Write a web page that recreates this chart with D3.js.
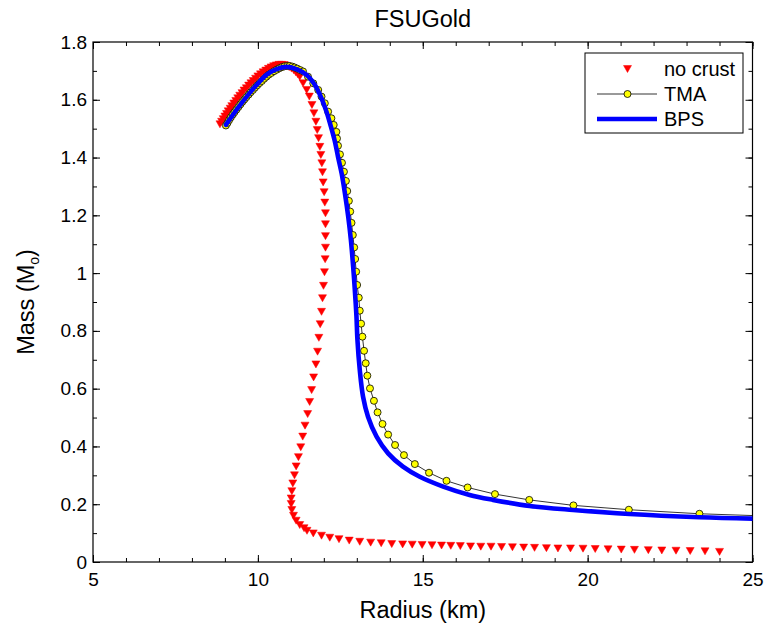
<!DOCTYPE html>
<html><head><meta charset="utf-8">
<script src="https://cdn.jsdelivr.net/npm/d3@7"></script>
<style>body{margin:0;background:#fff}svg{display:block}text{font-family:"Liberation Sans",Arial,sans-serif;fill:#000}</style>
</head><body>
<svg id="c" width="768" height="625"></svg>
<script>
// ---- data ----
const noCrustR = [8.85,8.90,8.95,9.00,9.05,9.10,9.16,9.21,9.27,9.33,9.39,9.45,9.52,9.58,9.65,9.72,9.79,9.86,9.93,10.00,10.08,10.16,10.24,10.32,10.40,10.48,10.56,10.64,10.72,10.80,10.87,10.95,11.02,11.09,11.15,11.21,
 11.27,11.37,11.48,11.56,11.64,11.70,11.76,11.80,11.84,11.88,11.91,11.94,11.96,11.98,12.01,12.03,12.05,12.05,12.05,12.05,12.04,12.02,11.99,11.96,11.93,11.89,11.85,11.81,11.76,11.69,11.63,11.57,11.51,11.43,11.36,11.30,11.23,11.16,11.11,11.06,11.03,11.01,11.01,11.03,11.08,11.16,11.27,11.40,11.49,
 11.68,11.93,12.18,12.46,12.77,13.09,13.42,13.74,14.06,14.39,14.68,14.98,15.28,15.57,15.85,16.14,16.45,16.76,17.07,17.39,17.72,18.06,18.39,18.75,19.10,19.48,19.86,20.23,20.62,21.02,21.42,21.84,22.25,22.68,23.11,23.56,24.00];
const noCrustM = [1.515,1.524,1.533,1.542,1.551,1.560,1.569,1.578,1.587,1.596,1.605,1.614,1.623,1.632,1.640,1.649,1.657,1.665,1.673,1.681,1.688,1.695,1.701,1.707,1.712,1.716,1.719,1.721,1.721,1.720,1.717,1.713,1.708,1.702,1.695,1.688,
 1.680,1.657,1.634,1.611,1.582,1.553,1.524,1.495,1.467,1.437,1.409,1.380,1.349,1.314,1.280,1.244,1.207,1.169,1.128,1.088,1.048,1.003,0.956,0.913,0.866,0.823,0.776,0.728,0.684,0.639,0.595,0.554,0.512,0.472,0.434,0.397,0.363,0.331,0.300,0.272,0.245,0.220,0.201,0.180,0.160,0.143,0.128,0.117,0.108,
 0.099,0.091,0.084,0.079,0.074,0.070,0.067,0.065,0.062,0.061,0.060,0.059,0.058,0.057,0.056,0.055,0.054,0.053,0.053,0.052,0.051,0.050,0.049,0.048,0.047,0.047,0.046,0.045,0.044,0.043,0.042,0.041,0.040,0.039,0.038,0.037,0.035];

const tmaR = [9.03,9.08,9.13,9.18,9.24,9.29,9.35,9.41,9.47,9.53,9.59,9.65,9.72,9.78,9.85,9.91,9.98,10.05,10.12,10.19,10.26,10.33,10.41,10.49,10.57,10.65,10.73,10.81,10.89,10.96,11.04,11.11,11.19,11.28,11.37,
 11.52,11.68,11.83,11.93,12.03,12.13,12.23,12.30,12.38,12.40,12.43,12.49,12.55,12.61,12.67,12.71,12.76,12.80,12.84,12.88,12.92,12.95,12.98,13.01,13.06,13.09,13.13,13.17,13.22,13.27,13.32,13.40,13.52,13.63,13.78,13.95,14.16,14.43,14.76,15.19,15.72,16.36,17.19,18.23,19.57,21.25,23.39,26.5];
const tmaM = [1.511,1.520,1.530,1.539,1.549,1.557,1.566,1.575,1.584,1.593,1.601,1.609,1.618,1.626,1.634,1.642,1.650,1.658,1.665,1.673,1.680,1.687,1.693,1.699,1.704,1.709,1.713,1.716,1.717,1.717,1.715,1.712,1.708,1.703,1.698,
 1.680,1.657,1.634,1.611,1.588,1.559,1.536,1.513,1.489,1.466,1.441,1.411,1.382,1.351,1.319,1.284,1.250,1.213,1.174,1.132,1.089,1.049,1.005,0.959,0.915,0.870,0.825,0.780,0.731,0.688,0.645,0.601,0.558,0.518,0.478,0.441,0.405,0.370,0.339,0.309,0.281,0.258,0.235,0.215,0.196,0.181,0.167,0.155];

const bpsR = [9.03,9.35,9.66,9.96,10.26,10.57,10.87,11.17,11.48,11.73,11.93,12.08,12.20,12.33,12.43,12.54,12.64,12.74,12.82,12.89,12.94,12.99,13.02,13.09,13.19,13.34,13.60,13.95,14.40,14.91,15.62,16.42,17.13,18.24,19.56,21.27,23.39,25.0];
const bpsM = [1.513,1.565,1.611,1.651,1.686,1.706,1.714,1.706,1.686,1.651,1.605,1.559,1.513,1.458,1.403,1.345,1.276,1.195,1.115,1.022,0.942,0.849,0.768,0.665,0.572,0.503,0.434,0.376,0.330,0.295,0.261,0.232,0.215,0.194,0.180,0.166,0.155,0.150];

const xTicks = [5,10,15,20,25];
const xTickLabels = ["5","10","15","20","25"];
const yTicks = [0,0.2,0.4,0.6,0.8,1,1.2,1.4,1.6,1.8];
const yTickLabels = ["0","0.2","0.4","0.6","0.8","1","1.2","1.4","1.6","1.8"];
const seriesNames = ["no crust","TMA","BPS"];
const titleText = "FSUGold";

// ---- layout ----
const L = 93, R = 752.5, T = 42, B = 562;
const svg = d3.select("#c");
const x = d3.scaleLinear().domain([5,25]).range([L,R]);
const y = d3.scaleLinear().domain([0,1.8]).range([B,T]);

svg.append("defs").append("clipPath").attr("id","clip")
  .append("rect").attr("x",L).attr("y",T).attr("width",R-L).attr("height",B-T);

const xMinor = d3.range(5,25.01,1);
const yMinor = d3.range(0,1.801,0.1);

function styleAxis(g){ g.select(".domain").remove(); g.selectAll("line").attr("stroke","#000").attr("stroke-width",1); g.selectAll("text").attr("font-size",19).attr("font-family","Liberation Sans, Arial, sans-serif"); }

// minor ticks
svg.append("g").attr("transform",`translate(0,${B})`).call(d3.axisBottom(x).tickValues(xMinor).tickSize(-4).tickFormat("")).call(styleAxis);
svg.append("g").attr("transform",`translate(0,${T})`).call(d3.axisTop(x).tickValues(xMinor).tickSize(-4).tickFormat("")).call(styleAxis);
svg.append("g").attr("transform",`translate(${L},0)`).call(d3.axisLeft(y).tickValues(yMinor).tickSize(-4).tickFormat("")).call(styleAxis);
svg.append("g").attr("transform",`translate(${R},0)`).call(d3.axisRight(y).tickValues(yMinor).tickSize(-4).tickFormat("")).call(styleAxis);
// major ticks
svg.append("g").attr("transform",`translate(0,${B})`).call(d3.axisBottom(x).tickValues(xTicks).tickSize(-7).tickPadding(11).tickFormat((d,i)=>xTickLabels[i])).call(styleAxis);
svg.append("g").attr("transform",`translate(0,${T})`).call(d3.axisTop(x).tickValues(xTicks).tickSize(-7).tickFormat("")).call(styleAxis);
svg.append("g").attr("transform",`translate(${L},0)`).call(d3.axisLeft(y).tickValues(yTicks).tickSize(-7).tickPadding(6).tickFormat((d,i)=>yTickLabels[i])).call(styleAxis);
svg.append("g").attr("transform",`translate(${R},0)`).call(d3.axisRight(y).tickValues(yTicks).tickSize(-7).tickFormat("")).call(styleAxis);

svg.append("rect").attr("x",L).attr("y",T).attr("width",R-L).attr("height",B-T)
  .attr("fill","none").attr("stroke","#000").attr("stroke-width",1.2);

const plot = svg.append("g").attr("clip-path","url(#clip)");
const tri = "M-4,-3.5L4,-3.5L0,3.5Z";

// no crust
const ncData = noCrustR.map((r,i)=>[r,noCrustM[i]]);
plot.append("g").selectAll("path").data(ncData).join("path")
  .attr("d",tri).attr("transform",d=>`translate(${x(d[0])},${y(d[1])})`)
  .attr("fill","#ff0000").attr("stroke","#ff0000").attr("stroke-width",0.5);

// TMA
const tmaData = tmaR.map((r,i)=>[r,tmaM[i]]);
plot.append("path").datum(tmaData).attr("fill","none").attr("stroke","#000").attr("stroke-width",0.8)
  .attr("d",d3.line().x(d=>x(d[0])).y(d=>y(d[1])));
plot.append("g").selectAll("circle").data(tmaData).join("circle")
  .attr("cx",d=>x(d[0])).attr("cy",d=>y(d[1])).attr("r",3.5)
  .attr("fill","#ffff00").attr("stroke","#000").attr("stroke-width",0.8);

// BPS
const bpsData = bpsR.map((r,i)=>[r,bpsM[i]]);
plot.append("path").datum(bpsData).attr("fill","none").attr("stroke","#0000ff").attr("stroke-width",4.6)
  .attr("stroke-linejoin","round").attr("stroke-linecap","round")
  .attr("d",d3.line().x(d=>x(d[0])).y(d=>y(d[1])).curve(d3.curveCatmullRom.alpha(0.5)));

// title and labels
svg.append("text").attr("x",(L+R)/2).attr("y",27).attr("text-anchor","middle").attr("font-size",23.5).text(titleText);
svg.append("text").attr("x",(L+R)/2).attr("y",618).attr("text-anchor","middle").attr("font-size",23.5).text("Radius (km)");
const yl = svg.append("text").attr("transform",`translate(34,${(T+B)/2}) rotate(-90)`).attr("text-anchor","middle").attr("font-size",23.5);
yl.append("tspan").text("Mass (M");
yl.append("tspan").attr("font-size",14).attr("dy",5).text("o");
yl.append("tspan").attr("dy",-5).text(")");

// legend
const lg = svg.append("g");
lg.append("rect").attr("x",585).attr("y",53).attr("width",158).attr("height",80).attr("fill","#fff").attr("stroke","#000").attr("stroke-width",1);
const rows = [69,94,119];
lg.append("path").attr("d",tri).attr("transform",`translate(627.5,${rows[0]})`).attr("fill","#ff0000").attr("stroke","#ff0000").attr("stroke-width",0.5);
lg.append("line").attr("x1",597).attr("x2",657).attr("y1",rows[1]).attr("y2",rows[1]).attr("stroke","#000").attr("stroke-width",0.8);
lg.append("circle").attr("cx",627.5).attr("cy",rows[1]).attr("r",3.5).attr("fill","#ffff00").attr("stroke","#000").attr("stroke-width",0.8);
lg.append("line").attr("x1",597).attr("x2",657).attr("y1",rows[2]).attr("y2",rows[2]).attr("stroke","#0000ff").attr("stroke-width",4.6);
lg.selectAll("text.lt").data(seriesNames).join("text").attr("class","lt")
  .attr("x",664).attr("y",(d,i)=>rows[i]).attr("dy","0.36em").attr("font-size",20).text(d=>d);
</script>
</body></html>
